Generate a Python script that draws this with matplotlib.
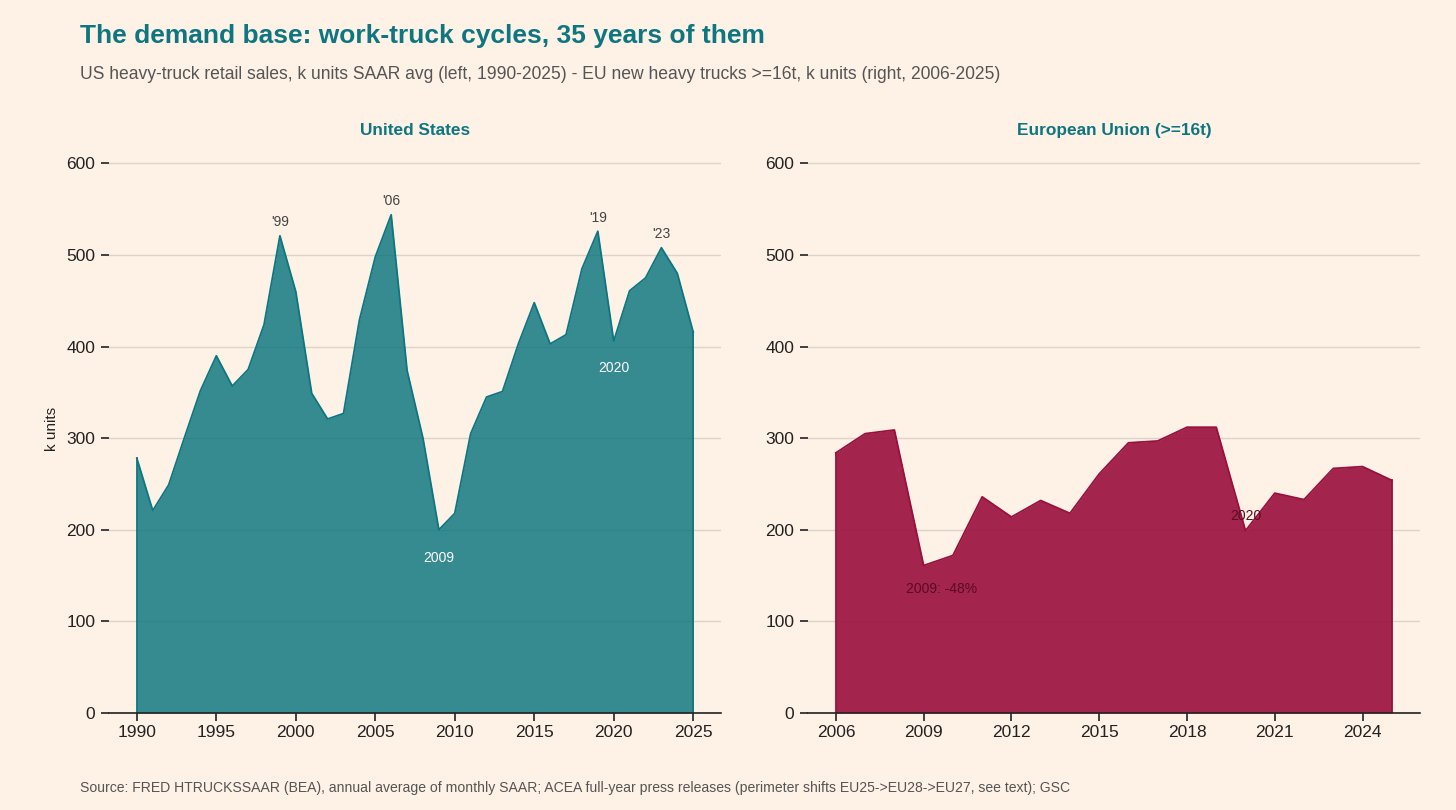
import matplotlib
matplotlib.use("Agg")
import matplotlib.pyplot as plt

plt.rcParams['font.family'] = ['Liberation Sans', 'DejaVu Sans']

us_years = list(range(1990, 2026))
us_values = [278, 221, 249, 301, 352, 390, 357, 375, 424, 521, 460, 349, 321, 327,
             429, 498, 544, 374, 300, 200, 218, 305, 345, 351, 403, 448, 403, 413,
             485, 526, 406, 461, 475, 508, 480, 416]

eu_years = list(range(2006, 2026))
eu_values = [284, 305, 309, 161, 172, 236, 214, 232, 218, 261, 295, 297, 312, 312,
             199, 240, 233, 267, 269, 254]

us_peaks = {1999: "'99", 2006: "'06", 2019: "'19", 2023: "'23"}

BG = '#FEF1E6'
TEAL = '#0D7680'
CLARET = '#990F3D'
GRID = '#DCD3CA'

fig = plt.figure(figsize=(14.56, 8.1), dpi=100, facecolor=BG)
ax1 = fig.add_axes([0.0749, 0.1198, 0.4203, 0.701])
ax2 = fig.add_axes([0.555, 0.1198, 0.42, 0.701])

for ax in (ax1, ax2):
    ax.set_facecolor(BG)
    ax.set_ylim(0, 620)
    ax.set_yticks([0, 100, 200, 300, 400, 500, 600])
    ax.grid(axis='y', color=GRID, linewidth=1)
    ax.set_axisbelow(True)
    for s in ('top', 'right', 'left'):
        ax.spines[s].set_visible(False)
    ax.spines['bottom'].set_color('#222222')
    ax.spines['bottom'].set_linewidth(1.2)
    ax.tick_params(axis='both', labelsize=12.5, colors='#222222', length=6, width=1.2)
    ax.tick_params(axis='y', pad=4)
    ax.tick_params(axis='x', pad=3)

# US
ax1.fill_between(us_years, us_values, color=TEAL, alpha=0.83, linewidth=0)
ax1.plot(us_years, us_values, color=TEAL, linewidth=1.3)
ax1.plot([us_years[0], us_years[0]], [0, us_values[0]], color=TEAL, linewidth=1.3)
ax1.plot([us_years[-1], us_years[-1]], [0, us_values[-1]], color=TEAL, linewidth=1.3)
ax1.set_xlim(1988.25, 2026.75)
ax1.set_xticks(list(range(1990, 2026, 5)))
ax1.set_ylabel('k units', fontsize=11, color='#222222', labelpad=5)
ax1.set_title('United States', fontsize=12.4, fontweight='bold', color=TEAL, pad=7.5)
for yr, lab in us_peaks.items():
    v = us_values[us_years.index(yr)]
    ax1.text(yr, v + 7, lab, ha='center', va='bottom', fontsize=10, color='#444444')
ax1.text(2009, 169, '2009', ha='center', va='center', fontsize=10, color='white')
ax1.text(2020, 377, '2020', ha='center', va='center', fontsize=10, color='white')

# EU
ax2.fill_between(eu_years, eu_values, color=CLARET, alpha=0.9, linewidth=0)
ax2.plot(eu_years, eu_values, color=CLARET, linewidth=1.3)
ax2.plot([eu_years[0], eu_years[0]], [0, eu_values[0]], color=CLARET, linewidth=1.3)
ax2.plot([eu_years[-1], eu_years[-1]], [0, eu_values[-1]], color=CLARET, linewidth=1.3)
ax2.set_xlim(2005.05, 2025.95)
ax2.set_xticks(list(range(2006, 2026, 3)))
ax2.set_title('European Union (>=16t)', fontsize=12.4, fontweight='bold', color=TEAL, pad=7.5)
ax2.text(2009.6, 135, '2009: -48%', ha='center', va='center', fontsize=10, color='#5C0A24')
ax2.text(2020.0, 215, '2020', ha='center', va='center', fontsize=10, color='#5C0A24')

fig.text(0.055, 0.955, 'The demand base: work-truck cycles, 35 years of them',
         fontsize=19, fontweight='bold', color=TEAL, ha='left', va='center')
fig.text(0.055, 0.908, 'US heavy-truck retail sales, k units SAAR avg (left, 1990-2025) - EU new heavy trucks >=16t, k units (right, 2006-2025)',
         fontsize=12.65, color='#555555', ha='left', va='center')
fig.text(0.055, 0.027, 'Source: FRED HTRUCKSSAAR (BEA), annual average of monthly SAAR; ACEA full-year press releases (perimeter shifts EU25->EU28->EU27, see text); GSC',
         fontsize=10.1, color='#555555', ha='left', va='center')

fig.savefig('out.png', dpi=100, facecolor=BG)
